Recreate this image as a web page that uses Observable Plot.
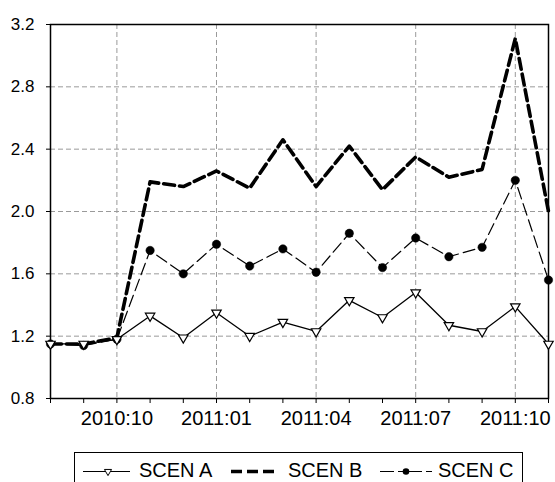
<!DOCTYPE html>
<html><head><meta charset="utf-8">
<script src="https://cdn.jsdelivr.net/npm/d3@7"></script>
<script src="https://cdn.jsdelivr.net/npm/@observablehq/plot@0.6"></script>
<style>
html,body{margin:0;padding:0;overflow:hidden;background:#fff;font-family:"Liberation Sans",Arial,sans-serif}
#wrap{position:relative;width:555px;height:482px}
#legend{position:absolute;left:0;top:440px}
</style>
</head><body><div id="wrap"><div id="chart"></div><div id="legend"></div></div>
<script>
const months = ["2010:08","2010:09","2010:10","2010:11","2010:12","2011:01","2011:02","2011:03","2011:04","2011:05","2011:06","2011:07","2011:08","2011:09","2011:10","2011:11"];
const scenA = [1.15,1.15,1.18,1.33,1.19,1.35,1.20,1.29,1.23,1.43,1.32,1.48,1.27,1.23,1.39,1.15];
const scenB = [1.15,1.15,1.19,2.19,2.16,2.26,2.15,2.46,2.16,2.42,2.14,2.35,2.22,2.27,3.11,2.00];
const scenC = [1.15,1.14,1.18,1.75,1.60,1.79,1.65,1.76,1.61,1.86,1.64,1.83,1.71,1.77,2.20,1.56];
const yTicks = [0.8,1.2,1.6,2.0,2.4,2.8,3.2];
const xLabels = ["2010:10","2011:01","2011:04","2011:07","2011:10"];
const seriesNames = ["SCEN A","SCEN B","SCEN C"];

const idx = d3.range(months.length);
const rows = idx.map(i => ({i, month: months[i], A: scenA[i], B: scenB[i], C: scenC[i]}));
const labeledIdx = xLabels.map(m => months.indexOf(m));
const gridY = yTicks.filter(v => v > yTicks[0] && v < yTicks[yTicks.length-1]);

const chart = Plot.plot({
  width: 555, height: 440,
  marginLeft: 50, marginRight: 7, marginTop: 24, marginBottom: 42,
  style: {fontFamily: "'Liberation Sans', Arial, sans-serif", background: "white", color: "black"},
  x: {type: "linear", domain: [0, months.length - 1]},
  y: {domain: [yTicks[0], yTicks[yTicks.length-1]]},
  marks: [
    Plot.gridX(labeledIdx, {stroke: "#9a9a9a", strokeOpacity: 1, strokeWidth: 1, strokeDasharray: "5,3"}),
    Plot.gridY(gridY, {stroke: "#9a9a9a", strokeOpacity: 1, strokeWidth: 1, strokeDasharray: "5,3"}),
    Plot.axisY(yTicks, {tickSize: 4, tickPadding: 12, fontSize: 17, tickFormat: d => d.toFixed(1), label: null}),
    Plot.axisX(idx, {tickSize: 5, tickPadding: 7, fontSize: 20, tickFormat: i => xLabels.includes(months[i]) ? months[i] : "", label: null}),
    Plot.frame({stroke: "black", strokeWidth: 1.5}),
    Plot.line(rows, {x: "i", y: "C", stroke: "black", strokeWidth: 1.2, strokeDasharray: "12,5"}),
    Plot.line(rows, {x: "i", y: "B", stroke: "black", strokeWidth: 3.6, strokeDasharray: "11,5"}),
    Plot.line(rows, {x: "i", y: "A", stroke: "black", strokeWidth: 1.3}),
    Plot.dot(rows, {x: "i", y: "C", r: 4.2, fill: "black", stroke: "black", strokeWidth: 0.5}),
    Plot.dot(rows, {x: "i", y: "A", r: 3.5, symbol: "triangle", rotate: 180, fill: "white", stroke: "black", strokeWidth: 1.2})
  ]
});
document.getElementById("chart").appendChild(chart);

// legend
const ns = "http://www.w3.org/2000/svg";
const lg = document.createElementNS(ns, "svg");
lg.setAttribute("width", 555); lg.setAttribute("height", 42);
lg.style.display = "block";
function el(tag, attrs) { const e = document.createElementNS(ns, tag); for (const k in attrs) e.setAttribute(k, attrs[k]); lg.appendChild(e); return e; }
el("rect", {x: 74.5, y: 12.5, width: 448, height: 60, fill: "none", stroke: "black", "stroke-width": 1});
const ly = 31.5;
el("line", {x1: 83, x2: 130, y1: ly, y2: ly, stroke: "black", "stroke-width": 1.2});
el("path", {d: d3.symbol(d3.symbolTriangle, 22)(), transform: `translate(108,${ly}) rotate(180)`, fill: "white", stroke: "black", "stroke-width": 1});
el("line", {x1: 231, x2: 278, y1: ly, y2: ly, stroke: "black", "stroke-width": 3.6, "stroke-dasharray": "11,5"});
el("line", {x1: 380, x2: 434, y1: ly, y2: ly, stroke: "black", "stroke-width": 1.2, "stroke-dasharray": "14,4,6,4"});
el("circle", {cx: 406, cy: ly, r: 3.3, fill: "black"});
const tx = [139, 288, 438];
seriesNames.forEach((n, k) => { const t = el("text", {x: tx[k], y: 36.7, "font-size": 20, fill: "black", "font-family": "'Liberation Sans', Arial, sans-serif"}); t.textContent = n; });
document.getElementById("legend").appendChild(lg);
</script>
</body></html>
